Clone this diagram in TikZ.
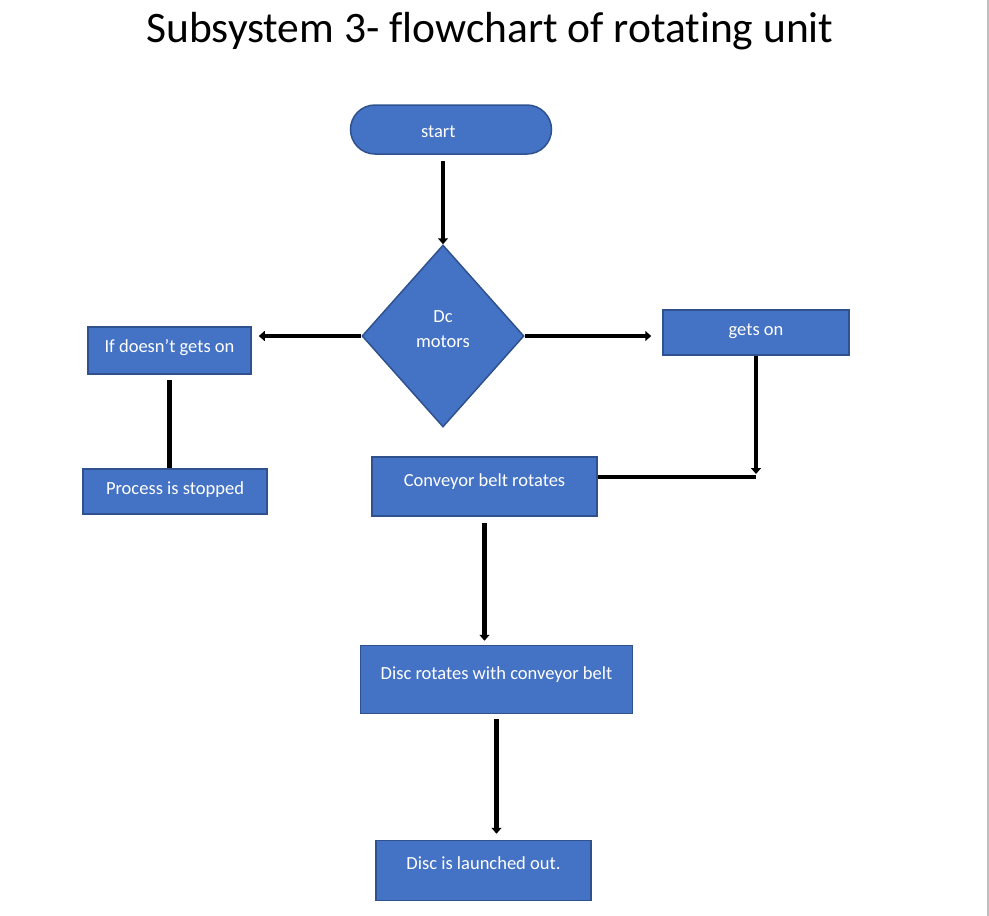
\documentclass[tikz,border=0pt]{standalone}
\usepackage{fontspec}
\setmainfont{Carlito}[Ligatures=NoCommon]
\usetikzlibrary{shapes.geometric,shapes.misc,arrows.meta}
\definecolor{boxblue}{HTML}{4472C4}
\definecolor{boxedge}{HTML}{2F528F}

\begin{document}
\begin{tikzpicture}[x=1pt,y=-1pt,
	block/.style={shape=rectangle,draw=boxedge,fill=boxblue,line width=1.5pt,text=white,inner sep=0pt,font=\fontsize{18.5}{25}\selectfont,text height=13pt},
	term/.style={block,shape=rounded rectangle,text width=60pt,align=left},
	decision/.style={block,shape=diamond,align=center},
	flow/.style={line width=4.5pt,-{Triangle[length=6pt,width=10pt]}},
	link/.style={line width=4.5pt}]
	
	\fill[white] (0,0) rectangle (989,916);
	\useasboundingbox (0,0) rectangle (989,916);
	\draw[black!25,line width=1.5pt] (988,0) -- (988,916);
	
	\node[font=\fontsize{43.5}{50}\selectfont,anchor=base] (title) at (490,42) {Subsystem 3- flowchart of rotating unit};
	
	\node[term,minimum width=201pt,minimum height=49pt,text height=17pt,text depth=1pt] (start) at (451,129.5) {start};
	\node[decision,minimum width=162pt,minimum height=182pt,text height=43pt,text depth=20pt] (dc) at (443,336) {Dc\\motors};
	\node[block,minimum width=163pt,minimum height=47pt,text depth=9pt] (ifnot) at (169.5,350.5) {If doesn’t gets on};
	\node[block,minimum width=184pt,minimum height=45pt,text depth=8pt] (stop) at (175,491.5) {Process is stopped};
	\node[block,minimum width=186pt,minimum height=45pt,text depth=8pt] (on) at (756,332.5) {gets on};
	\node[block,minimum width=225pt,minimum height=59pt,text depth=13pt] (conv) at (484.5,486.5) {Conveyor belt rotates};
	\node[block,minimum width=272pt,minimum height=68pt,text depth=13pt] (rot) at (496.5,679.5) {Disc rotates with conveyor belt};
	\node[block,minimum width=215pt,minimum height=60pt,text depth=15pt] (out) at (483.5,870.5) {Disc is launched out.};
	\coordinate (turn) at (756,477);
	
	\draw[flow,shorten <=6pt] (start.south -| dc.north) -- (dc.north);
	\draw[flow,shorten >=7pt] (dc.west) -- (dc.west -| ifnot.east);
	\draw[flow,shorten >=11pt] (dc.east) -- (dc.east -| on.west);
	\draw[link,shorten <=5pt] (ifnot.south) -- (ifnot.south |- stop.north);
	\draw[flow,shorten >=3pt] (on.south) -- (turn);
	\draw[link] (turn) -- (turn -| conv.east);
	\draw[flow,shorten <=6pt,shorten >=4pt] (conv.south) -- (conv.south |- rot.north);
	\draw[flow,shorten <=5pt,shorten >=6pt] (rot.south) -- (rot.south |- out.north);
	
\end{tikzpicture}
\end{document}
